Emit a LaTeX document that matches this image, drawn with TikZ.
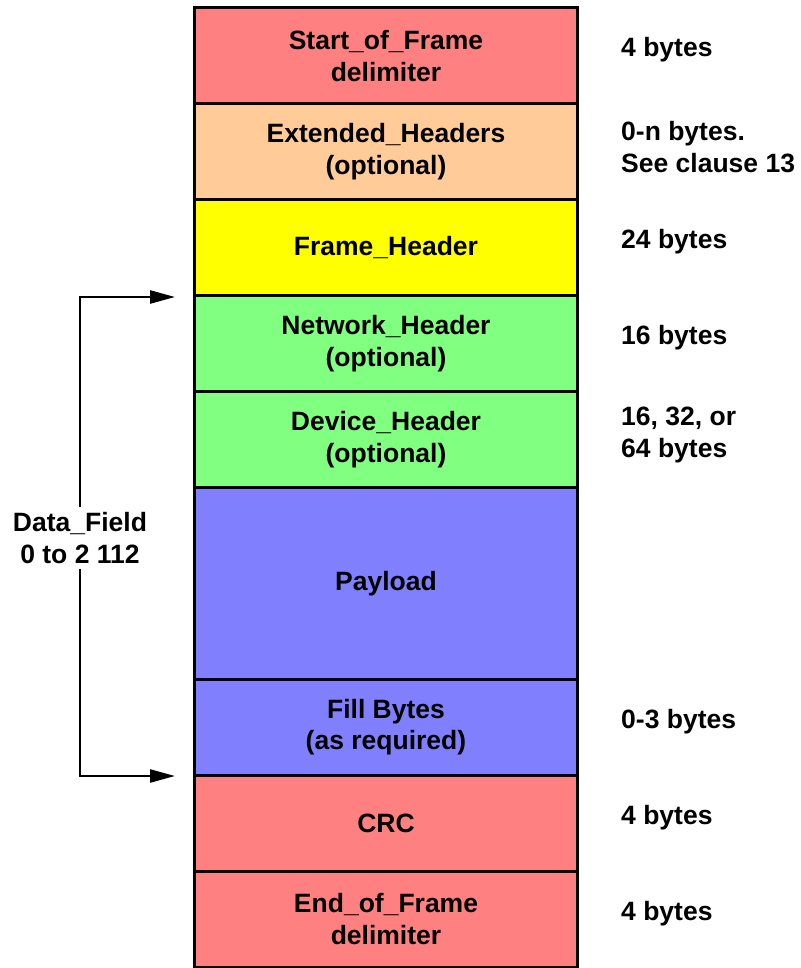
\documentclass[tikz,border=0pt]{standalone}
\usepackage{fontspec}
\setmainfont{Liberation Sans}
\usetikzlibrary{arrows.meta}
\definecolor{cred}{HTML}{FF8080}
\definecolor{corange}{HTML}{FFCC99}
\definecolor{cyellow}{HTML}{FFFF00}
\definecolor{cgreen}{HTML}{80FF80}
\definecolor{cblue}{HTML}{8080FF}
\begin{document}
\begin{tikzpicture}[x=1pt,y=-1pt,
  every node/.style={font=\fontsize{26.5}{31.5}\selectfont\bfseries},
  rowbox/.style={draw=black,line width=3pt,minimum width=383pt,minimum height=95.9pt,align=center,inner sep=0pt},
  bytelabel/.style={anchor=west,align=left,inner sep=0pt},
  bracket/.style={line width=2.5pt,-{Triangle[length=25pt,width=13pt]}}]
\useasboundingbox (0,0) rectangle (800,968);
\node[rowbox,fill=cred]    (sof) at (386,55.95)  {Start\_of\_Frame\\delimiter};
\node[rowbox,fill=corange] (ext) at (386,151.85) {Extended\_Headers\\(optional)};
\node[rowbox,fill=cyellow] (fh)  at (386,247.75) {Frame\_Header};
\node[rowbox,fill=cgreen]  (nh)  at (386,343.65) {Network\_Header\\(optional)};
\node[rowbox,fill=cgreen]  (dh)  at (386,439.55) {Device\_Header\\(optional)};
\node[rowbox,fill=cblue,minimum height=191.8pt] (pl) at (386,583.4) {Payload};
\node[rowbox,fill=cblue]   (fb)  at (386,727.25) {Fill Bytes\\(as required)};
\node[rowbox,fill=cred]    (crc) at (386,823.15) {CRC};
\node[rowbox,fill=cred]    (eof) at (386,919.05) {End\_of\_Frame\\delimiter};
\node[bytelabel] (l1) at (621,50)  {4 bytes};
\node[bytelabel] (l2) at (621,147) {0-n bytes.\\See clause 13};
\node[bytelabel] (l3) at (621,242) {24 bytes};
\node[bytelabel] (l4) at (621,338) {16 bytes};
\node[bytelabel] (l5) at (621,435) {16, 32, or\\64 bytes};
\node[bytelabel] (l6) at (621,722) {0-3 bytes};
\node[bytelabel] (l7) at (621,818) {4 bytes};
\node[bytelabel] (l8) at (621,914) {4 bytes};
\node[align=center,inner sep=5pt] (df) at (80,538) {Data\_Field\\0 to 2 112};
\coordinate (ta) at (175,297);
\coordinate (tb) at (175,776);
\draw[bracket] (df.north) |- (ta);
\draw[bracket] (df.south) |- (tb);
\end{tikzpicture}
\end{document}
